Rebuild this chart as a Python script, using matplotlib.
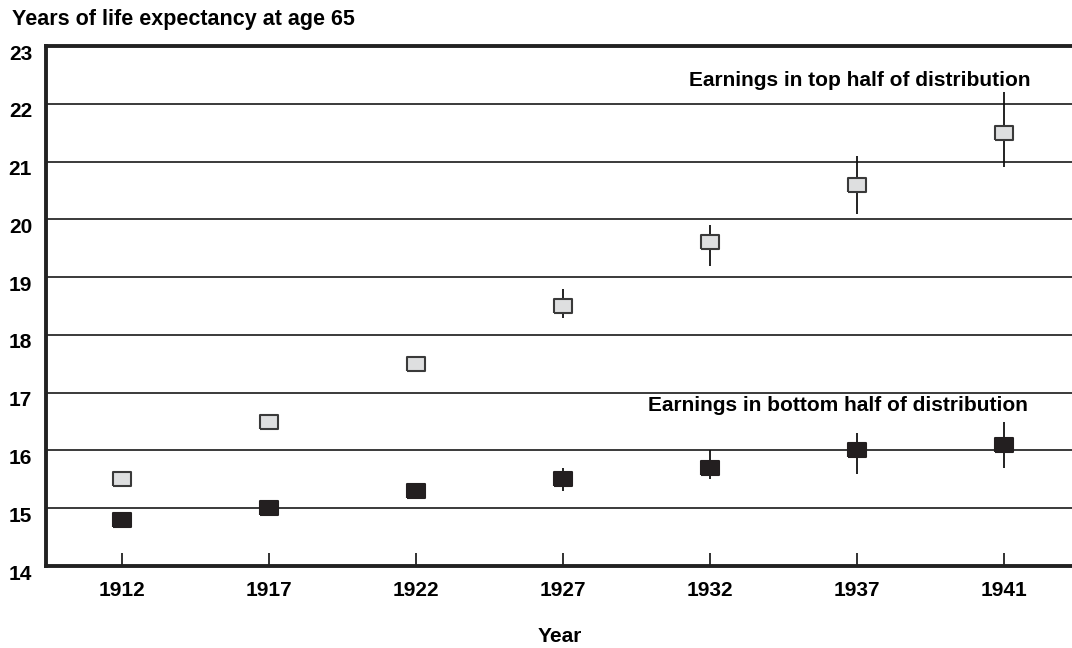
import numpy as np
import matplotlib
matplotlib.use('Agg')
import matplotlib.pyplot as plt
import matplotlib.transforms as mtransforms

plt.rcParams['font.family'] = ['Liberation Sans', 'DejaVu Sans']
plt.rcParams['font.weight'] = 'bold'

years = ['1912', '1917', '1922', '1927', '1932', '1937', '1941']
top_mid = [15.5, 16.5, 17.5, 18.5, 19.6, 20.6, 21.5]
top_lo = [15.4, 16.4, 17.4, 18.3, 19.2, 20.1, 20.9]
top_hi = [15.6, 16.6, 17.6, 18.8, 19.9, 21.1, 22.2]
bot_mid = [14.8, 15.0, 15.3, 15.5, 15.7, 16.0, 16.1]
bot_lo = [14.7, 14.9, 15.2, 15.3, 15.5, 15.6, 15.7]
bot_hi = [14.9, 15.1, 15.4, 15.7, 16.0, 16.3, 16.5]

x = np.arange(len(years))
box = [(-1, -0.78), (1, -0.78), (1, 0.78), (-1, 0.78), (-1, -0.78)]

fig = plt.figure(figsize=(10.72, 6.48), dpi=100)
ax = fig.add_axes([46/1072, 82/648, 1 - 46/1072, 520/648])

for y in range(15, 23):
    ax.axhline(y, color='#3a3a3a', lw=1.4, zorder=1)

ax.vlines(x, top_lo, top_hi, color='#111111', lw=1.3, zorder=2)
ax.vlines(x, bot_lo, bot_hi, color='#111111', lw=1.3, zorder=2)
ax.plot(x, top_mid, ls='none', marker=box, ms=13, mfc='#dedfe0',
        mec='#3a3a3a', mew=1.5, zorder=3)
ax.plot(x, bot_mid, ls='none', marker=box, ms=13, mfc='#231f20',
        mec='#231f20', mew=1.5, zorder=3)

ax.set_xlim(-0.517, 6.46)
ax.set_ylim(14, 23)
ax.set_yticks(range(14, 24))
ax.set_xticks(x)
ax.set_xticklabels(years)
ax.tick_params(axis='y', length=0, pad=10, labelsize=15)
ax.tick_params(axis='x', direction='in', length=9.5, width=1.3,
               color='#222222', pad=11, labelsize=15)
shift = mtransforms.ScaledTranslation(0, -6/100, fig.dpi_scale_trans)
for lab in ax.get_yticklabels():
    lab.set_transform(lab.get_transform() + shift)

for s in ['left', 'bottom', 'top']:
    ax.spines[s].set_linewidth(2.8)
    ax.spines[s].set_color('#222222')
ax.spines['right'].set_visible(False)

fig.text(560/1072, 1 - 637/648, 'Year', fontsize=15, fontweight='bold',
         ha='center', va='center')
fig.text(12/1072, 1 - 20/648, 'Years of life expectancy at age 65',
         fontsize=15.5, fontweight='bold', va='center', ha='left')

ax.text(6.177, 22.41, 'Earnings in top half of distribution', fontsize=15,
        fontweight='bold', ha='right', va='center')
ax.text(6.163, 16.77, 'Earnings in bottom half of distribution', fontsize=15,
        fontweight='bold', ha='right', va='center')

fig.savefig('out.png', dpi=100)
